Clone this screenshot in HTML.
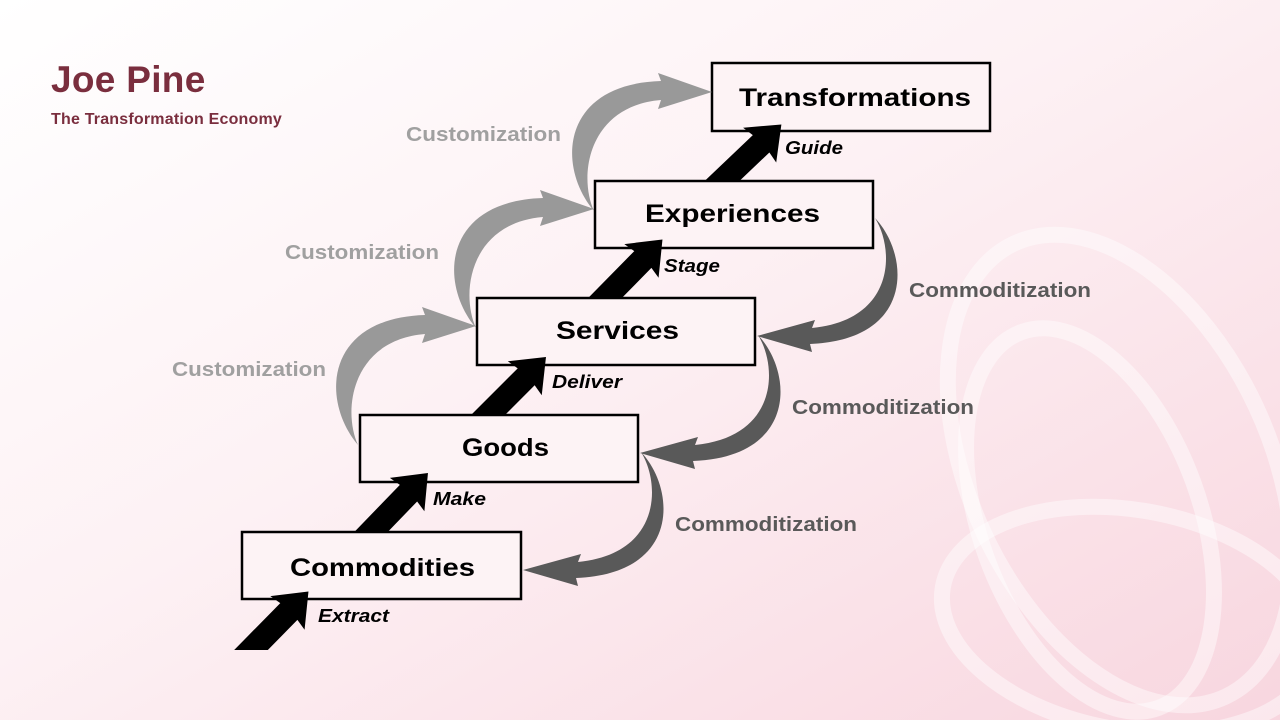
<!DOCTYPE html>
<html><head><meta charset="utf-8"><style>
html,body{margin:0;padding:0;width:1280px;height:720px;overflow:hidden}
body{background:linear-gradient(150deg,#ffffff 0%,#fdf1f4 45%,#f8d6df 100%);font-family:"Liberation Sans",sans-serif;position:relative}
h1{position:absolute;left:51px;top:59px;margin:0;font-size:37px;color:#7a2e3e;font-weight:bold;letter-spacing:0.3px}
.sub{position:absolute;left:51px;top:111px;font-size:16px;font-weight:bold;color:#7a2e3e;letter-spacing:0.2px}
svg{display:block}
</style></head><body>
<svg width="1280" height="720" style="position:absolute;left:0;top:0;overflow:hidden">
<defs>
<path id="blk" d="M-12,-12 L54,-12 L52,-24 L82,0 L52,24 L54,12 L-12,12 Z" fill="#000"/>
<path id="cus" d="M358,445 C342,410 352,340 425,334 L422,343 L476,326 L422,307 L425,315 C325,318 320,400 358,445 Z" fill="#999"/>
<path id="com" d="M875,218 C895,250 895,320 812,328 L815,320 L757,336 L812,352 L810,344 C915,340 910,255 875,218 Z" fill="#595959"/>
<clipPath id="c1"><rect x="0" y="0" width="1280" height="650"/></clipPath>
<clipPath id="c2"><rect x="0" y="0" width="1280" height="532"/></clipPath>
<clipPath id="c3"><rect x="0" y="0" width="1280" height="415"/></clipPath>
<clipPath id="c4"><rect x="0" y="0" width="1280" height="298"/></clipPath>
<clipPath id="c5"><rect x="0" y="0" width="1280" height="181"/></clipPath>
</defs>
<g fill="none" stroke="#ffffff" stroke-opacity="0.45" stroke-width="16">
<ellipse cx="1120" cy="470" rx="150" ry="250" transform="rotate(-25 1120 470)"/>
<ellipse cx="1090" cy="520" rx="110" ry="200" transform="rotate(-20 1090 520)"/>
<ellipse cx="1130" cy="620" rx="190" ry="110" transform="rotate(10 1130 620)"/>
</g>
<g fill="#fdf3f5" stroke="#000" stroke-width="2.5">
<rect x="712" y="63" width="278" height="68"/>
<rect x="595" y="181" width="278" height="67"/>
<rect x="477" y="298" width="278" height="67"/>
<rect x="360" y="415" width="278" height="67"/>
<rect x="242" y="532" width="279" height="67"/>
</g>
<g clip-path="url(#c1)"><use href="#blk" transform="translate(251,650) rotate(-45.5)"/></g>
<g clip-path="url(#c2)"><use href="#blk" transform="translate(371,532) rotate(-46)"/></g>
<g clip-path="url(#c3)"><use href="#blk" transform="translate(488,415) rotate(-45)"/></g>
<g clip-path="url(#c4)"><use href="#blk" transform="translate(605,298) rotate(-45.5)"/></g>
<g clip-path="url(#c5)"><use href="#blk" transform="translate(722,181) rotate(-43.6)"/></g>
<g font-weight="bold" font-size="25" fill="#000">
<text x="739" y="106" textLength="232" lengthAdjust="spacingAndGlyphs">Transformations</text>
<text x="645" y="222" textLength="175" lengthAdjust="spacingAndGlyphs">Experiences</text>
<text x="556" y="339" textLength="123" lengthAdjust="spacingAndGlyphs">Services</text>
<text x="462" y="456" textLength="87" lengthAdjust="spacingAndGlyphs">Goods</text>
<text x="290" y="576" textLength="185" lengthAdjust="spacingAndGlyphs">Commodities</text>
</g>
<use href="#cus"/>
<use href="#cus" transform="translate(118,-117)"/>
<use href="#cus" transform="translate(236,-234)"/>
<use href="#com"/>
<use href="#com" transform="translate(-117,117)"/>
<use href="#com" transform="translate(-234,234)"/>
<g font-weight="bold" font-style="italic" font-size="18" fill="#000">
<text x="318" y="622" textLength="71" lengthAdjust="spacingAndGlyphs">Extract</text>
<text x="433" y="505" textLength="53" lengthAdjust="spacingAndGlyphs">Make</text>
<text x="552" y="388" textLength="70" lengthAdjust="spacingAndGlyphs">Deliver</text>
<text x="664" y="272" textLength="56" lengthAdjust="spacingAndGlyphs">Stage</text>
<text x="785" y="154" textLength="58" lengthAdjust="spacingAndGlyphs">Guide</text>
</g>
<g font-weight="bold" font-size="20" fill="#a0a0a0">
<text x="172" y="376" textLength="154" lengthAdjust="spacingAndGlyphs">Customization</text>
<text x="285" y="259" textLength="154" lengthAdjust="spacingAndGlyphs">Customization</text>
<text x="406" y="141" textLength="155" lengthAdjust="spacingAndGlyphs">Customization</text>
</g>
<g font-weight="bold" font-size="20" fill="#595959">
<text x="909" y="297" textLength="182" lengthAdjust="spacingAndGlyphs">Commoditization</text>
<text x="792" y="414" textLength="182" lengthAdjust="spacingAndGlyphs">Commoditization</text>
<text x="675" y="531" textLength="182" lengthAdjust="spacingAndGlyphs">Commoditization</text>
</g>
</svg>
<h1>Joe Pine</h1>
<div class="sub">The Transformation Economy</div>
</body></html>
